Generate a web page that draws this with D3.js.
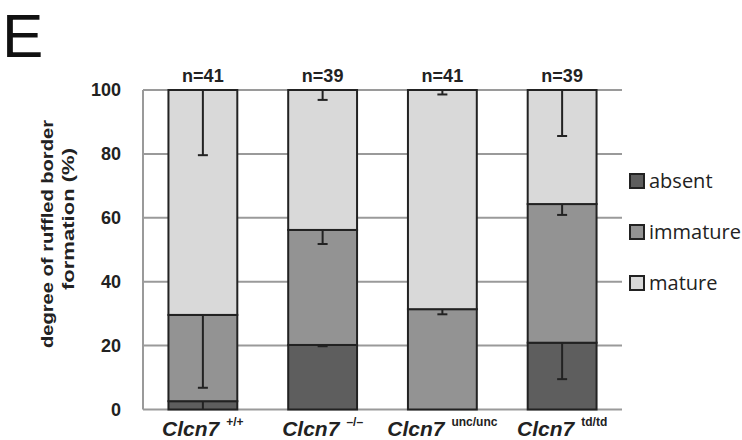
<!DOCTYPE html>
<html><head><meta charset="utf-8">
<script src="https://cdn.jsdelivr.net/npm/d3@7"></script>
<style>body{margin:0;background:#fff}svg{display:block}</style>
</head><body>
<svg id="c" width="742" height="440"></svg>
<script>
const categories = ["+/+", "\u2013/\u2013", "unc/unc", "td/td"];
const nLabels = ["n=41", "n=39", "n=41", "n=39"];
const absent = [2.6, 20.2, 0, 20.9];
const immature = [27.0, 36.0, 31.4, 43.4];
const mature = [70.4, 43.8, 68.6, 35.7];
const errAbsent = [2.6, 0.4, 0, 11.4];
const errImmature = [22.8, 4.4, 1.6, 3.4];
const errMature = [20.4, 3.1, 1.4, 14.4];
const seriesNames = ["absent", "immature", "mature"];
const colors = ["#5e5e5e", "#939393", "#d9d9d9"];
const yTicks = [0, 20, 40, 60, 80, 100];

const svg = d3.select("#c");
const x = d3.scaleBand().domain(d3.range(categories.length)).range([143, 622]).paddingInner(0.425).paddingOuter(0.2125);
const y = d3.scaleLinear().domain([0, 100]).range([409.5, 90]);

// grid
svg.append("g").selectAll("line").data(yTicks).join("line")
  .attr("x1", 143).attr("x2", 622).attr("y1", d => y(d)).attr("y2", d => y(d))
  .attr("stroke", "#9a9a9a").attr("stroke-width", 2);
svg.append("line").attr("x1", 143).attr("x2", 143).attr("y1", y(100)).attr("y2", y(0))
  .attr("stroke", "#9a9a9a").attr("stroke-width", 2);

// y tick labels
const yAxis = d3.axisLeft(y).tickValues(yTicks).tickSize(0).tickPadding(22);
const ga = svg.append("g").attr("transform", "translate(143,0)").call(yAxis);
ga.select(".domain").remove();
ga.selectAll("text").attr("font-family", "Liberation Sans, Arial, sans-serif").attr("font-weight", "bold")
  .attr("font-size", 18).attr("fill", "#222");

// stacked bars
const table = categories.map((c, i) => ({i, absent: absent[i], immature: immature[i], mature: mature[i]}));
const stack = d3.stack().keys(seriesNames)(table);
const errs = [errAbsent, errImmature, errMature];
stack.forEach((s, k) => {
  svg.append("g").selectAll("rect").data(s).join("rect")
    .attr("x", d => x(d.data.i)).attr("width", x.bandwidth())
    .attr("y", d => y(d[1])).attr("height", d => y(d[0]) - y(d[1]))
    .attr("fill", colors[k]).attr("stroke", "#222").attr("stroke-width", 2);
});
// error bars
stack.forEach((s, k) => {
  const g = svg.append("g").attr("stroke", "#222").attr("stroke-width", 2);
  s.forEach(d => {
    const e = errs[k][d.data.i];
    if (d[1] - d[0] <= 0 || e <= 0) return;
    const cx = x(d.data.i) + x.bandwidth() / 2;
    g.append("line").attr("x1", cx).attr("x2", cx).attr("y1", y(d[1])).attr("y2", y(d[1] - e));
    if (d[1] - e > 0.01) g.append("line").attr("x1", cx - 5).attr("x2", cx + 5).attr("y1", y(d[1] - e)).attr("y2", y(d[1] - e));
  });
});

// n labels
svg.append("g").selectAll("text").data(nLabels).join("text")
  .attr("x", (d, i) => x(i) + x.bandwidth() / 2).attr("y", 82)
  .attr("text-anchor", "middle").attr("font-family", "Liberation Sans, Arial, sans-serif")
  .attr("font-weight", "bold").attr("font-size", 18).attr("fill", "#222").text(d => d);

// x labels
const xl = svg.append("g").selectAll("text").data(categories).join("text")
  .attr("x", (d, i) => x(i) + x.bandwidth() / 2).attr("y", 436)
  .attr("text-anchor", "middle").attr("font-family", "Liberation Sans, Arial, sans-serif")
  .attr("font-weight", "bold").attr("fill", "#222");
xl.append("tspan").attr("font-style", "italic").attr("font-size", 21).text("Clcn7");
xl.append("tspan").attr("font-size", 12).attr("dx", 7).attr("dy", -10).text(d => d);

// y title
const titleFont = {"font-family": "Liberation Sans, Arial, sans-serif", "font-weight": "bold", "font-size": 17, "fill": "#222"};
const t1 = svg.append("text").attr("transform", "translate(53,234) rotate(-90)").attr("text-anchor", "middle")
  .attr("textLength", 228).attr("lengthAdjust", "spacingAndGlyphs").text("degree of ruffled border");
const t2 = svg.append("text").attr("transform", "translate(74,219) rotate(-90)").attr("text-anchor", "middle")
  .attr("textLength", 142).attr("lengthAdjust", "spacingAndGlyphs").text("formation (%)");
[t1, t2].forEach(t => Object.entries(titleFont).forEach(([k, v]) => t.attr(k, v)));

// legend
const lg = svg.append("g").selectAll("g").data(seriesNames).join("g")
  .attr("transform", (d, i) => `translate(630,${181 + i * 51})`);
lg.append("rect").attr("x", 0).attr("y", -7).attr("width", 14).attr("height", 14)
  .attr("fill", (d, i) => colors[i]).attr("stroke", "#222").attr("stroke-width", 2);
lg.append("text").attr("x", 19).attr("y", 0).attr("dy", "0.35em")
  .attr("font-family", "Open Sans, sans-serif").attr("font-size", 20).attr("fill", "#222").text(d => d);

// panel letter
svg.append("text").attr("x", 2).attr("y", 57).attr("font-family", "Liberation Sans, Arial, sans-serif")
  .attr("font-size", 62).attr("fill", "#111").text("E");
</script>
</body></html>
